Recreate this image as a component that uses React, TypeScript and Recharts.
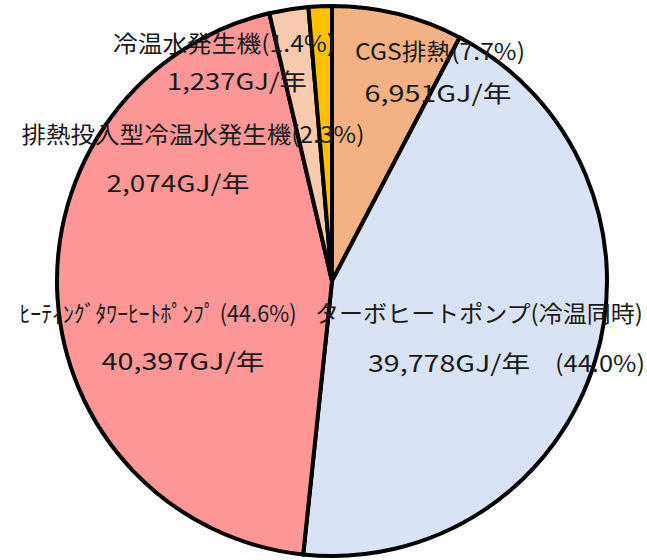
import React from 'react';
import { PieChart, Pie, Cell } from 'recharts';

const names = ['CGS排熱', 'ターボヒートポンプ', 'ヒーティングタワーヒートポンプ', '排熱投入型冷温水発生機', '冷温水発生機'];
const values = [6951, 39778, 40397, 2074, 1237];
const titleLines = [
  'CGS排熱(7.7%)',
  'ターボヒートポンプ(冷温同時)',
  'ﾋｰﾃｨﾝｸﾞﾀﾜｰﾋｰﾄﾎﾟﾝﾌﾟ (44.6%)',
  '排熱投入型冷温水発生機(2.3%)',
  '冷温水発生機(1.4%)',
];
const valueLines = ['6,951GJ/年', '39,778GJ/年', '40,397GJ/年', '2,074GJ/年', '1,237GJ/年'];
const colors = ['#F4B183', '#DAE3F3', '#FF9797', '#F8CBAD', '#FFC000'];

const data = names.map((name, i) => ({ name, value: values[i] }));

// label layout relative to the pie centre: [titleX, titleY, titleW, valueX, valueY, valueW]
const labelPos = [
  [108, -231, 170, 106, -189, 147],
  [147, 31, 328, 117, 81, 162],
  [-174, 31, 277, -149, 79, 163],
  [-139, -148, 343, -154, -99, 143],
  [-108, -239, 222, -95, -201, 140],
];

const font = '"Noto Sans CJK JP", sans-serif';

function Line({ x, y, w, children }: { x: number; y: number; w: number; children: string }) {
  return (
    <text x={x} y={y} textAnchor="middle" dominantBaseline="central" fontSize={23}
      fill="#1a1a1a" fontFamily={font} textLength={w} lengthAdjust="spacingAndGlyphs">
      {children}
    </text>
  );
}

function renderLabel(props: any) {
  const { cx, cy, index } = props;
  const p = labelPos[index];
  return (
    <g key={'lbl' + index}>
      <Line x={cx + p[0]} y={cy + p[1]} w={p[2]}>{titleLines[index]}</Line>
      <Line x={cx + p[3]} y={cy + p[4]} w={p[5]}>{valueLines[index]}</Line>
      {index === 1 && <Line x={cx + 268} y={cy + 81} w={90}>(44.0%)</Line>}
    </g>
  );
}

export default function App() {
  return (
    <div style={{ position: 'absolute', left: 0, top: 0, background: '#fff' }}>
      <PieChart width={647} height={560} margin={{ top: 0, right: 0, bottom: 0, left: 0 }}>
        <Pie
          data={data}
          dataKey="value"
          cx={332}
          cy={281}
          outerRadius={275}
          startAngle={90}
          endAngle={-270}
          stroke="#000"
          strokeWidth={4}
          label={renderLabel}
          labelLine={false}
          isAnimationActive={false}
        >
          {data.map((d, i) => (
            <Cell key={d.name} fill={colors[i]} />
          ))}
        </Pie>
      </PieChart>
    </div>
  );
}
